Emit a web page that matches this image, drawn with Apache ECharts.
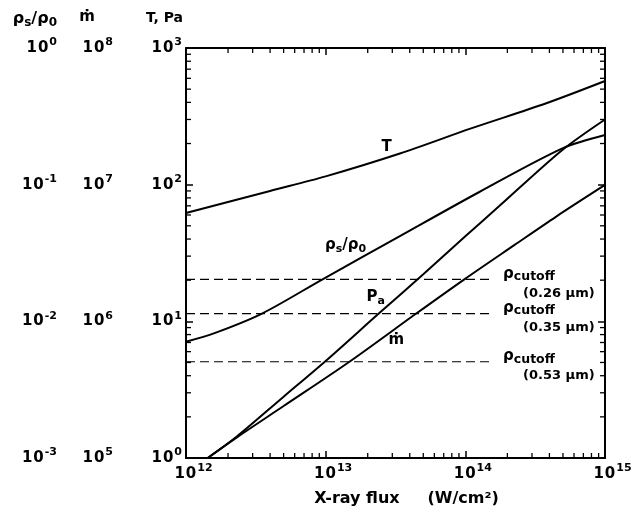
<!DOCTYPE html>
<html><head><meta charset="utf-8">
<script src="https://cdn.jsdelivr.net/npm/echarts@6/dist/echarts.min.js"></script>
<style>html,body{margin:0;padding:0;background:#fff}#c{width:635px;height:518px}</style>
</head><body><div id="c"></div>
<script>
// ---- data ----
const fluxT = [1e12, 4e12, 1e13, 3.4e13, 1.1e14, 3.8e14, 1e15];
const temperature = [62, 90, 115, 169, 258, 394, 573];

const fluxRho = [1e12, 1.6e12, 3.5e12, 9.5e12, 3.4e13, 1.25e14, 5e14, 1e15];
const rhoRatio = [0.0071, 0.0082, 0.0114, 0.0203, 0.042, 0.088, 0.185, 0.231];

const fluxPa = [1.43e12, 2.3e12, 5e12, 1e13, 2.4e13, 5e13, 1e14, 1.75e14, 4.9e14, 1e15];
const pressureA = [1.0, 1.43, 2.81, 5.13, 11.4, 22.1, 41.9, 69.7, 178, 300];

const fluxMdot = [1.43e12, 2.3e12, 5e12, 1.48e13, 4.45e13, 9.84e13, 2.24e14, 4.45e14, 1e15];
const massRate = [1e5, 1.41e5, 2.4e5, 5.06e5, 1.14e6, 2.03e6, 3.61e6, 5.82e6, 9.95e6];

const cutoffRho = [0.0203, 0.0114, 0.00506];
const cutoffWavelengths = ['(0.26 μm)', '(0.35 μm)', '(0.53 μm)'];
const cutoffFluxRange = [1e12, 1.58e14];

const xTickDecades = [1e12, 1e13, 1e14];
const yTickDecades = [1, 10, 100];
const minorSteps = [2, 3, 4, 5, 6, 7, 8, 9];

// ---- chart ----
const FONT = '"DejaVu Sans", "Liberation Sans", sans-serif';
const chart = echarts.init(document.getElementById('c'), null, {renderer: 'canvas'});

const supRich = {
  b: {fontFamily: FONT, fontWeight: 'bold', fontSize: 15, color: '#000', lineHeight: 22, padding: [0, 1, 0, 0]},
  s: {fontFamily: FONT, fontWeight: 'bold', fontSize: 11, color: '#000', lineHeight: 10, verticalAlign: 'top'}
};
const txtRich = {
  g: {fontFamily: FONT, fontWeight: 'bold', fontSize: 15, color: '#000', lineHeight: 20},
  sub: {fontFamily: FONT, fontWeight: 'bold', fontSize: 11, color: '#000', lineHeight: 12, verticalAlign: 'bottom'},
  n: {fontFamily: FONT, fontWeight: 'bold', fontSize: 16, color: '#000', lineHeight: 20},
  ns: {fontFamily: FONT, fontWeight: 'bold', fontSize: 12, color: '#000', lineHeight: 12, verticalAlign: 'bottom'}
};
const cutRich = {
  c: {fontFamily: FONT, fontWeight: 'bold', fontSize: 15, color: '#000', lineHeight: 19},
  cs: {fontFamily: FONT, fontWeight: 'bold', fontSize: 12.5, color: '#000', lineHeight: 12, verticalAlign: 'bottom'},
  p: {fontFamily: FONT, fontWeight: 'bold', fontSize: 13, color: '#000', lineHeight: 20, padding: [0, 0, 0, 20]}
};
function powLabel(v) {
  const e = Math.round(Math.log10(v));
  return '{b|1}{b|0}{s|' + e + '}';
}
const axisLineStyle = {color: '#000', width: 2};
const tickStyle = {color: '#000', width: 1.5};

const xMinor = [];
xTickDecades.forEach(d => minorSteps.forEach(m => xMinor.push([m * d, 1])));
const yMinor = [];
yTickDecades.forEach(d => minorSteps.forEach(m => yMinor.push([1e12, m * d])));

const curveStyle = {color: '#000', width: 2};

function cutoffSeries(i) {
  return {
    type: 'line', xAxisIndex: 0, yAxisIndex: 2, silent: true, symbol: 'none',
    data: [[cutoffFluxRange[0], cutoffRho[i]], [cutoffFluxRange[1], cutoffRho[i]]],
    lineStyle: {color: '#000', width: 1.2, type: [9, 5]},
    endLabel: {
      show: true, distance: 10, offset: [0, 4.5],
      formatter: '{c|ρ}{cs|cutoff}\n{p|' + cutoffWavelengths[i] + '}',
      rich: cutRich
    }
  };
}

const option = {
  animation: false,
  backgroundColor: '#fff',
  grid: {left: 186, right: 30, top: 48, bottom: 60},
  xAxis: [
    {
      type: 'log', logBase: 10, min: 1e12, max: 1e15, position: 'bottom',
      axisLine: {lineStyle: axisLineStyle},
      axisTick: {inside: true, length: 7, lineStyle: tickStyle},
      axisLabel: {formatter: powLabel, rich: supRich, margin: 5, padding: [0, 0, 0, 15]},
      splitLine: {show: false},
      name: 'X-ray flux     (W/cm²)', nameLocation: 'middle', nameGap: 33,
      nameTextStyle: {fontFamily: FONT, fontWeight: 'bold', fontSize: 16, color: '#000', padding: [0, 0, 0, 22]}
    },
    {
      type: 'log', logBase: 10, min: 1e12, max: 1e15, position: 'top',
      axisLine: {lineStyle: axisLineStyle},
      axisTick: {inside: true, length: 7, lineStyle: tickStyle},
      axisLabel: {show: false}, splitLine: {show: false}
    }
  ],
  yAxis: [
    {
      type: 'log', logBase: 10, min: 1, max: 1000, position: 'left', offset: 0,
      axisLine: {lineStyle: axisLineStyle},
      axisTick: {inside: true, length: 7, lineStyle: tickStyle},
      axisLabel: {formatter: powLabel, rich: supRich, margin: 4},
      splitLine: {show: false},
      name: 'T, Pa', nameLocation: 'end', nameGap: 23,
      nameTextStyle: {fontFamily: FONT, fontWeight: 'bold', fontSize: 14, color: '#000', align: 'right', padding: [0, 3, 0, 0]}
    },
    {
      type: 'log', logBase: 10, min: 1e5, max: 1e8, position: 'left', offset: 69,
      axisLine: {show: false}, axisTick: {show: false},
      axisLabel: {formatter: powLabel, rich: supRich, margin: 4},
      splitLine: {show: false},
      name: 'ṁ', nameLocation: 'end', nameGap: 23,
      nameTextStyle: {fontFamily: FONT, fontWeight: 'bold', fontSize: 15, color: '#000', align: 'right', padding: [0, 22, 0, 0]}
    },
    {
      type: 'log', logBase: 10, min: 0.001, max: 1, position: 'left', offset: 125,
      axisLine: {show: false}, axisTick: {show: false},
      axisLabel: {formatter: powLabel, rich: supRich, margin: 4},
      splitLine: {show: false},
      name: '{n|ρ}{ns|s}{n|/ρ}{ns|0}', nameLocation: 'end', nameGap: 19,
      nameTextStyle: {align: 'right', padding: [0, 4, 0, 0], rich: txtRich}
    },
    {
      type: 'log', logBase: 10, min: 1, max: 1000, position: 'right',
      axisLine: {lineStyle: axisLineStyle},
      axisTick: {inside: true, length: 7, lineStyle: tickStyle},
      axisLabel: {show: false}, splitLine: {show: false}
    }
  ],
  series: [
    {
      name: 'T', type: 'line', xAxisIndex: 0, yAxisIndex: 0, symbol: 'none', smooth: 0.3,
      data: fluxT.map((f, i) => [f, temperature[i]]), lineStyle: curveStyle,
      markPoint: {symbol: 'circle', symbolSize: 0, silent: true,
        label: {show: true, position: 'inside', formatter: '{g|T}', rich: txtRich},
        data: [{coord: [2.73e13, 188]}]}
    },
    {
      name: 'rho', type: 'line', xAxisIndex: 0, yAxisIndex: 2, symbol: 'none', smooth: 0.3,
      data: fluxRho.map((f, i) => [f, rhoRatio[i]]), lineStyle: curveStyle,
      markPoint: {symbol: 'circle', symbolSize: 0, silent: true,
        label: {show: true, position: 'inside', formatter: '{g|ρ}{sub|s}{g|/ρ}{sub|0}', rich: txtRich},
        data: [{coord: [1.39e13, 0.0362]}]}
    },
    {
      name: 'Pa', type: 'line', xAxisIndex: 0, yAxisIndex: 0, symbol: 'none', smooth: 0.3,
      data: fluxPa.map((f, i) => [f, pressureA[i]]), lineStyle: curveStyle,
      markPoint: {symbol: 'circle', symbolSize: 0, silent: true,
        label: {show: true, position: 'inside', formatter: '{g|P}{sub|a}', rich: txtRich},
        data: [{coord: [2.28e13, 15.1]}]}
    },
    {
      name: 'mdot', type: 'line', xAxisIndex: 0, yAxisIndex: 1, symbol: 'none', smooth: 0.3,
      data: fluxMdot.map((f, i) => [f, massRate[i]]), lineStyle: curveStyle,
      markPoint: {symbol: 'circle', symbolSize: 0, silent: true,
        label: {show: true, position: 'inside', formatter: '{g|ṁ}', rich: txtRich},
        data: [{coord: [3.21e13, 7.3e5]}]}
    },
    cutoffSeries(0), cutoffSeries(1), cutoffSeries(2),
    {
      type: 'custom', xAxisIndex: 0, yAxisIndex: 0, silent: true, clip: false, z: 5,
      data: xMinor,
      renderItem: function (params, api) {
        const v = api.value(0);
        const b = api.coord([v, 1]);
        const t = api.coord([v, 1000]);
        return {type: 'group', children: [
          {type: 'line', shape: {x1: b[0], y1: b[1], x2: b[0], y2: b[1] - 5}, style: {stroke: '#000', lineWidth: 1.3}},
          {type: 'line', shape: {x1: t[0], y1: t[1], x2: t[0], y2: t[1] + 5}, style: {stroke: '#000', lineWidth: 1.3}}
        ]};
      }
    },
    {
      type: 'custom', xAxisIndex: 0, yAxisIndex: 0, silent: true, clip: false, z: 5,
      data: yMinor,
      renderItem: function (params, api) {
        const v = api.value(1);
        const l = api.coord([1e12, v]);
        const r = api.coord([1e15, v]);
        return {type: 'group', children: [
          {type: 'line', shape: {x1: l[0], y1: l[1], x2: l[0] + 5, y2: l[1]}, style: {stroke: '#000', lineWidth: 1.3}},
          {type: 'line', shape: {x1: r[0], y1: r[1], x2: r[0] - 5, y2: r[1]}, style: {stroke: '#000', lineWidth: 1.3}}
        ]};
      }
    }
  ]
};
chart.setOption(option);
</script>
</body></html>
